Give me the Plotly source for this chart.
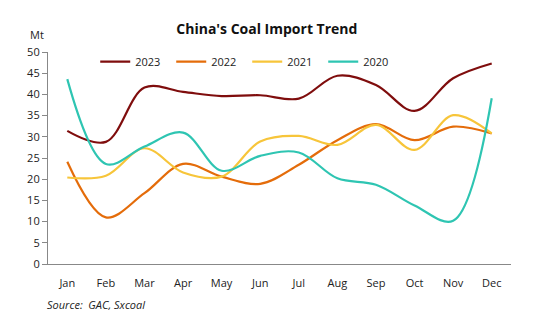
import plotly.graph_objects as go

months = ["Jan", "Feb", "Mar", "Apr", "May", "Jun", "Jul", "Aug", "Sep", "Oct", "Nov", "Dec"]
y2023 = [31.4, 28.8, 41.6, 40.6, 39.6, 39.8, 39.0, 44.4, 42.2, 36.1, 43.8, 47.3]
y2022 = [24.1, 11.0, 16.7, 23.6, 20.6, 18.9, 23.4, 29.2, 33.0, 29.2, 32.4, 30.8]
y2021 = [20.4, 20.8, 27.3, 21.6, 20.6, 28.9, 30.2, 28.1, 32.8, 26.9, 35.1, 30.8]
y2020 = [43.6, 23.6, 27.7, 31.0, 22.0, 25.5, 26.3, 20.2, 18.7, 13.8, 10.2, 39.1]

series = [("2023", y2023, "#7F0D0D"), ("2022", y2022, "#E46C0A"),
          ("2021", y2021, "#F7C53A"), ("2020", y2020, "#2EC5B2")]

fig = go.Figure()
for name, ys, col in series:
    fig.add_trace(go.Scatter(x=months, y=ys, name=name, mode="lines",
                             line=dict(color=col, width=2.2, shape="spline", smoothing=1.0)))

font = "Open Sans"
fig.update_layout(
    width=538, height=323,
    margin=dict(l=48, r=26.5, t=52, b=58.7),
    paper_bgcolor="white", plot_bgcolor="white",
    font=dict(family=font, size=11, color="#222"),
    title=dict(text="<b>China's Coal Import Trend</b>", x=0.496, xanchor="center",
               y=1 - 29 / 323, yanchor="middle", font=dict(size=14, color="#111", family=font)),
    showlegend=True,
    legend=dict(orientation="h", x=0.102, xanchor="left", y=0.955, yanchor="middle",
                bgcolor="rgba(0,0,0,0)", font=dict(size=11, color="#222"),
                itemwidth=30, entrywidth=31, entrywidthmode="pixels", tracegroupgap=0),
    xaxis=dict(type="category", range=[-0.5, 11.5], showline=True, linecolor="#888",
               linewidth=1.2, ticks="", showgrid=False, zeroline=False,
               ticklabelstandoff=9, tickfont=dict(size=11, color="#222")),
    yaxis=dict(range=[0, 50], dtick=5, showline=True, linecolor="#888", linewidth=1.2,
               ticks="outside", ticklen=5, tickcolor="#888", showgrid=False,
               zeroline=False, tickfont=dict(size=11, color="#222")),
)
fig.add_annotation(text="Mt", xref="paper", yref="paper", x=-0.024, y=(264.3 - 34) / 212.6,
                   showarrow=False, xanchor="center", yanchor="middle",
                   font=dict(size=11, color="#222"))
fig.add_annotation(text="<i>Source:  GAC, Sxcoal</i>", xref="paper", yref="paper",
                   x=-0.006, y=-(305 - 264.3) / 212.6, showarrow=False,
                   xanchor="left", yanchor="middle", font=dict(size=11, color="#222"))
fig.write_html("out.html")
